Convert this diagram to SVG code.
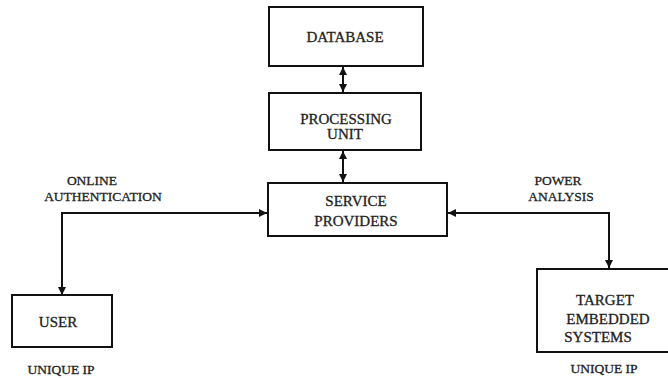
<svg xmlns="http://www.w3.org/2000/svg" width="668" height="378" viewBox="0 0 668 378">
<style>
.box{fill:#fff;stroke:#111;stroke-width:2}
.t{font-family:"Liberation Serif","Times New Roman",serif;font-size:15px;fill:#222;stroke:#222;stroke-width:0.3;text-anchor:middle}
.l{font-family:"Liberation Serif","Times New Roman",serif;font-size:13.5px;fill:#222;stroke:#222;stroke-width:0.3;text-anchor:middle}
.c{fill:none;stroke:#111;stroke-width:2}
</style>
<defs>
<marker id="ah" viewBox="0 0 10 10" refX="10" refY="5" markerWidth="4" markerHeight="4" orient="auto-start-reverse" markerUnits="strokeWidth">
<path d="M0,0 L10,5 L0,10 z" fill="#111"/>
</marker>
</defs>
<rect width="668" height="378" fill="#fff"/>
<g id="connectors">
<line class="c" x1="343" y1="67" x2="343" y2="92" marker-start="url(#ah)" marker-end="url(#ah)"/>
<line class="c" x1="343" y1="151" x2="343" y2="182" marker-start="url(#ah)" marker-end="url(#ah)"/>
<path class="c" d="M62,295 L62,213 L267,213" marker-start="url(#ah)" marker-end="url(#ah)"/>
<path class="c" d="M448,213 L609,213 L609,268" marker-start="url(#ah)" marker-end="url(#ah)"/>
</g>
<g id="database">
<rect class="box" x="269" y="7" width="154" height="59"/>
<text class="t" x="345" y="42">DATABASE</text>
</g>
<g id="processing-unit">
<rect class="box" x="269" y="93" width="152" height="57"/>
<text class="t" x="346" y="124">PROCESSING</text>
<text class="t" x="345" y="139">UNIT</text>
</g>
<g id="service-providers">
<rect class="box" x="268" y="183" width="179" height="53"/>
<text class="t" x="356" y="206">SERVICE</text>
<text class="t" x="356" y="226">PROVIDERS</text>
</g>
<g id="user">
<rect class="box" x="12" y="295" width="100" height="52"/>
<text class="t" x="58" y="327">USER</text>
<text class="l" x="61" y="374">UNIQUE IP</text>
</g>
<g id="target">
<rect class="box" x="537" y="269" width="133" height="83"/>
<text class="t" x="605" y="305">TARGET</text>
<text class="t" x="608" y="324">EMBEDDED</text>
<text class="t" x="598" y="342">SYSTEMS</text>
<text class="l" x="604" y="373">UNIQUE IP</text>
</g>
<g id="labels">
<text class="l" x="92" y="185">ONLINE</text>
<text class="l" x="103" y="201">AUTHENTICATION</text>
<text class="l" x="558" y="185">POWER</text>
<text class="l" x="561" y="201">ANALYSIS</text>
</g>
</svg>
